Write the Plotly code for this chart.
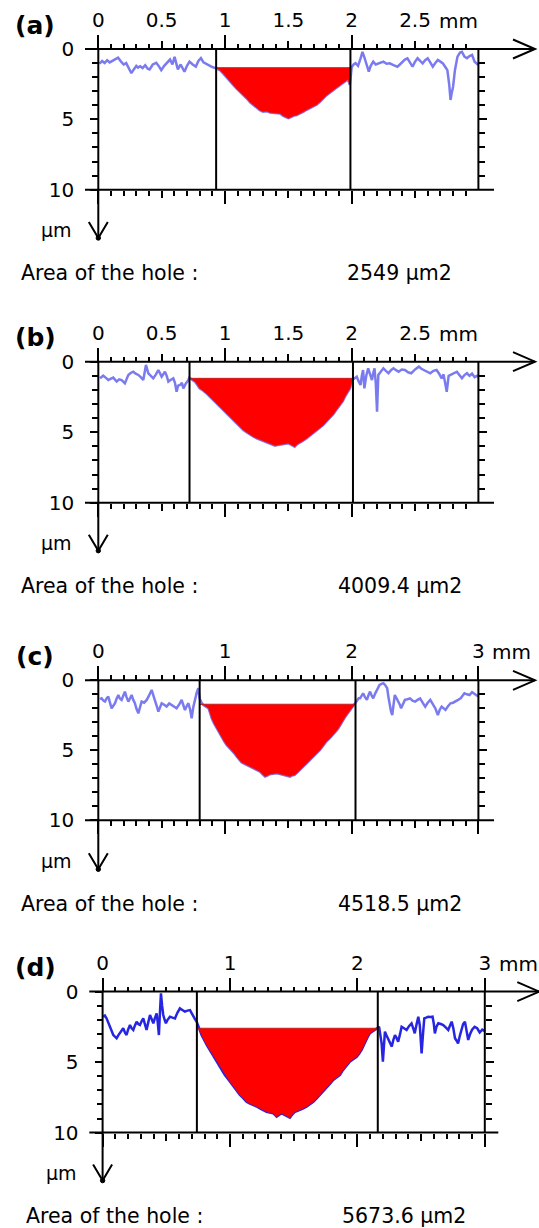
import plotly.graph_objects as go

W, H = 539, 1228
FONT = "DejaVu Sans"

# ---------------- data ----------------
panel_labels = ["(a)", "(b)", "(c)", "(d)"]
area_values = ["2549 µm2", "4009.4 µm2", "4518.5 µm2", "5673.6 µm2"]
area_caption = "Area of the hole :"
x_unit = "mm"
y_unit = "µm"

top_vals_ab = [0, 0.5, 1, 1.5, 2, 2.5]
top_text_ab = ["0", "0.5", "1", "1.5", "2", "2.5"]
top_vals_cd = [0, 0.5, 1, 1.5, 2, 2.5, 3]
top_text_cd = ["0", "", "1", "", "2", "", "3"]
major_vals_ab = [0, 1, 2]
major_vals_cd = [0, 1, 2, 3]
depth_vals = [0, 5, 10]
depth_text = ["0", "5", "10"]
depth_minor = [1, 2, 3, 4, 6, 7, 8, 9]

hole_bounds = [(0.93, 1.99), (0.72, 2.01), (0.80, 2.03), (0.74, 2.16)]
hole_levels = [1.33, 1.18, 1.71, 2.60]
x_frame_end = 3.0
depth_max = 10

profile_a = [
    (0.01, 1.05), (0.03, 0.85), (0.05, 1.00), (0.07, 0.80), (0.09, 0.95), (0.11, 0.85), (0.13, 0.75),
    (0.156, 0.62), (0.18, 0.90), (0.20, 1.10), (0.22, 1.00), (0.24, 1.35), (0.261, 1.72), (0.28, 1.45),
    (0.30, 1.20), (0.313, 1.32), (0.33, 1.22), (0.35, 1.35), (0.37, 1.15), (0.39, 1.40), (0.405, 1.45),
    (0.43, 1.10), (0.458, 0.98), (0.48, 1.25), (0.497, 1.50), (0.52, 1.20), (0.54, 1.00), (0.566, 0.75),
    (0.585, 1.10), (0.602, 0.55), (0.615, 1.00), (0.628, 1.45), (0.65, 1.10), (0.68, 1.62), (0.70, 1.20),
    (0.72, 0.90), (0.745, 1.10), (0.77, 1.25), (0.79, 0.85), (0.81, 0.65), (0.83, 0.95), (0.85, 1.05),
    (0.875, 1.15), (0.90, 1.28), (0.93, 1.38),
    (0.96, 1.50), (0.987, 1.75), (1.015, 2.05), (1.04, 2.35), (1.065, 2.55), (1.09, 2.80), (1.12, 3.05),
    (1.145, 3.30), (1.17, 3.50), (1.20, 3.80), (1.225, 4.00), (1.25, 4.20), (1.275, 4.35), (1.30, 4.45),
    (1.33, 4.42), (1.355, 4.52), (1.38, 4.55), (1.41, 4.60), (1.435, 4.58), (1.46, 4.75), (1.48, 4.82),
    (1.50, 4.92), (1.52, 4.85), (1.54, 4.75), (1.565, 4.70), (1.59, 4.60), (1.62, 4.45), (1.645, 4.32),
    (1.67, 4.22), (1.70, 4.10), (1.725, 3.95), (1.75, 3.75), (1.775, 3.50), (1.80, 3.30), (1.83, 3.10),
    (1.855, 2.90), (1.88, 2.75), (1.91, 2.55), (1.93, 2.45), (1.95, 2.30), (1.97, 2.15), (1.985, 2.55),
    (2.00, 1.30), (2.015, 1.10), (2.03, 1.00), (2.05, 1.20), (2.07, 0.66), (2.085, 0.20), (2.10, 0.60),
    (2.12, 1.26), (2.135, 1.60), (2.15, 1.20), (2.17, 0.90), (2.19, 1.10), (2.21, 1.02), (2.23, 0.95),
    (2.25, 0.90), (2.275, 1.05), (2.30, 1.02), (2.33, 1.15), (2.36, 1.26), (2.38, 1.10), (2.40, 0.90),
    (2.42, 0.75), (2.44, 0.66), (2.46, 1.00), (2.48, 1.26), (2.50, 0.90), (2.52, 0.66), (2.54, 0.85),
    (2.56, 1.02), (2.58, 0.80), (2.60, 0.66), (2.62, 0.95), (2.64, 1.26), (2.66, 1.00), (2.68, 0.78),
    (2.70, 0.90), (2.72, 1.02), (2.74, 1.30), (2.755, 1.50), (2.77, 2.55), (2.78, 3.62), (2.79, 3.10),
    (2.80, 2.68), (2.815, 1.49), (2.835, 0.54), (2.855, 0.25), (2.87, 0.20), (2.89, 0.54), (2.91, 0.66),
    (2.93, 0.50), (2.95, 0.42), (2.97, 0.90), (2.99, 1.10), (3.00, 1.15),
]

profile_b = [
    (0.013, 1.18), (0.026, 1.05), (0.039, 0.99), (0.06, 1.15), (0.079, 1.30), (0.10, 1.20), (0.118, 1.13),
    (0.145, 1.41), (0.165, 1.25), (0.184, 1.30), (0.21, 1.53), (0.225, 1.20), (0.237, 0.94), (0.255, 0.80),
    (0.276, 0.71), (0.295, 0.85), (0.316, 0.94), (0.335, 1.10), (0.355, 1.30), (0.365, 0.80), (0.376, 0.23),
    (0.395, 0.82), (0.415, 1.00), (0.434, 1.18), (0.455, 0.90), (0.474, 0.59), (0.50, 1.06), (0.526, 0.71),
    (0.54, 1.00), (0.553, 1.41), (0.57, 1.30), (0.592, 1.18), (0.605, 1.50), (0.618, 2.13), (0.63, 1.70),
    (0.645, 1.65), (0.66, 1.50), (0.671, 1.89), (0.692, 1.53), (0.705, 1.40), (0.718, 1.13),
    (0.724, 1.18), (0.743, 1.30), (0.763, 1.41), (0.78, 1.60), (0.80, 1.89), (0.82, 2.00), (0.84, 2.13),
    (0.86, 2.30), (0.88, 2.48), (0.905, 2.70), (0.934, 2.95), (0.96, 3.20), (0.987, 3.43), (1.015, 3.65),
    (1.04, 3.90), (1.065, 4.15), (1.09, 4.37), (1.12, 4.60), (1.145, 4.84), (1.17, 5.00), (1.20, 5.20),
    (1.225, 5.32), (1.25, 5.43), (1.275, 5.52), (1.30, 5.62), (1.33, 5.70), (1.355, 5.79), (1.375, 5.88),
    (1.395, 5.95), (1.42, 5.90), (1.447, 5.86), (1.475, 5.82), (1.50, 5.79), (1.525, 5.90), (1.55, 6.03),
    (1.57, 5.85), (1.59, 5.72), (1.62, 5.58), (1.645, 5.43), (1.67, 5.25), (1.70, 5.08), (1.725, 4.90),
    (1.75, 4.73), (1.775, 4.50), (1.80, 4.25), (1.83, 4.00), (1.855, 3.73), (1.88, 3.40), (1.91, 3.07),
    (1.93, 2.80), (1.947, 2.48), (1.965, 2.20), (1.987, 1.89), (2.005, 1.30),
    (2.02, 1.20), (2.04, 1.06), (2.055, 1.40), (2.07, 1.65), (2.08, 1.00), (2.09, 0.59), (2.10, 1.89),
    (2.115, 1.00), (2.13, 0.47), (2.145, 0.90), (2.16, 1.30), (2.17, 0.80), (2.18, 0.47), (2.19, 1.50),
    (2.20, 3.54), (2.21, 0.94), (2.23, 0.70), (2.25, 0.47), (2.27, 0.65), (2.29, 0.82), (2.31, 0.60),
    (2.33, 0.47), (2.35, 0.60), (2.37, 0.71), (2.395, 0.55), (2.42, 0.59), (2.445, 0.75), (2.47, 0.82),
    (2.50, 0.55), (2.53, 0.35), (2.55, 0.50), (2.57, 0.59), (2.595, 0.70), (2.62, 0.82), (2.645, 0.65),
    (2.67, 0.59), (2.69, 0.85), (2.71, 1.18), (2.725, 0.90), (2.75, 2.13), (2.765, 1.00), (2.78, 0.94),
    (2.805, 0.80), (2.83, 0.71), (2.85, 0.95), (2.87, 1.18), (2.89, 0.95), (2.91, 0.82), (2.93, 1.00),
    (2.95, 0.85), (2.97, 1.10), (2.99, 1.00), (3.00, 1.05),
]

profile_c = [
    (0.013, 1.35), (0.026, 1.29), (0.04, 1.45), (0.053, 1.52), (0.065, 1.30), (0.079, 1.17), (0.092, 1.60),
    (0.105, 2.00), (0.12, 1.80), (0.132, 1.64), (0.145, 1.30), (0.158, 1.05), (0.17, 1.30), (0.184, 1.40),
    (0.197, 1.10), (0.21, 0.81), (0.223, 1.20), (0.237, 1.52), (0.25, 1.30), (0.263, 1.05), (0.276, 1.40),
    (0.289, 1.64), (0.30, 2.00), (0.316, 2.36), (0.33, 1.90), (0.342, 1.52), (0.362, 1.60), (0.382, 1.40),
    (0.40, 1.10), (0.421, 0.69), (0.435, 1.10), (0.447, 1.52), (0.46, 1.80), (0.474, 2.24), (0.487, 1.90),
    (0.50, 1.64), (0.52, 1.75), (0.539, 1.88), (0.56, 1.65), (0.579, 1.76), (0.60, 1.90), (0.618, 2.00),
    (0.64, 1.70), (0.658, 1.40), (0.672, 1.80), (0.684, 2.12), (0.70, 1.80), (0.711, 1.64), (0.725, 2.10),
    (0.737, 2.71), (0.75, 1.90), (0.763, 1.29), (0.776, 0.90), (0.789, 0.57), (0.80, 1.30),
    (0.815, 1.60), (0.83, 1.76), (0.85, 1.88), (0.87, 2.00), (0.883, 2.35), (0.895, 2.71), (0.915, 3.10),
    (0.934, 3.43), (0.955, 3.75), (0.974, 4.02), (0.993, 4.35), (1.013, 4.62), (1.033, 4.80), (1.053, 4.98),
    (1.072, 5.20), (1.092, 5.45), (1.11, 5.65), (1.13, 5.86), (1.15, 5.95), (1.17, 6.05), (1.195, 6.15),
    (1.22, 6.29), (1.25, 6.40), (1.276, 6.52), (1.295, 6.70), (1.316, 6.88), (1.335, 6.80), (1.355, 6.71),
    (1.38, 6.68), (1.41, 6.64), (1.435, 6.70), (1.46, 6.76), (1.485, 6.82), (1.513, 6.88), (1.53, 6.80),
    (1.55, 6.76), (1.57, 6.60), (1.59, 6.40), (1.62, 6.15), (1.645, 5.93), (1.67, 5.70), (1.70, 5.45),
    (1.725, 5.20), (1.75, 4.98), (1.775, 4.68), (1.80, 4.38), (1.83, 4.12), (1.855, 3.90), (1.875, 3.65),
    (1.895, 3.43), (1.915, 3.10), (1.934, 2.83), (1.95, 2.60), (1.97, 2.36), (1.99, 2.10), (2.01, 1.88),
    (2.025, 1.71),
    (2.04, 1.50), (2.055, 1.29), (2.066, 1.29), (2.078, 1.10), (2.09, 0.93), (2.105, 1.20), (2.12, 1.40),
    (2.133, 1.05), (2.145, 0.81), (2.158, 1.10), (2.17, 1.29), (2.185, 0.95), (2.20, 0.69), (2.21, 0.45),
    (2.22, 0.33), (2.235, 0.25), (2.25, 0.21), (2.265, 0.35), (2.28, 0.57), (2.29, 1.20), (2.30, 1.76),
    (2.31, 2.20), (2.32, 2.48), (2.33, 1.60), (2.34, 1.05), (2.355, 1.30), (2.37, 1.52), (2.38, 1.75),
    (2.39, 2.00), (2.405, 1.65), (2.42, 1.40), (2.44, 1.35), (2.46, 1.29), (2.48, 1.45), (2.50, 1.52),
    (2.52, 1.40), (2.54, 1.29), (2.56, 1.60), (2.58, 1.88), (2.60, 1.60), (2.62, 1.40), (2.64, 1.70),
    (2.66, 2.00), (2.68, 2.48), (2.695, 2.10), (2.71, 1.88), (2.725, 2.00), (2.74, 2.12), (2.76, 1.85),
    (2.78, 1.64), (2.80, 1.60), (2.82, 1.52), (2.84, 1.40), (2.86, 1.29), (2.875, 1.10), (2.89, 0.93),
    (2.91, 1.00), (2.93, 1.05), (2.95, 0.85), (2.97, 1.00), (2.99, 1.10), (3.00, 1.15),
]

profile_d = [
    (0.005, 1.78), (0.018, 1.70), (0.031, 1.90), (0.045, 2.20), (0.058, 2.49), (0.07, 2.70), (0.084, 3.08),
    (0.097, 3.20), (0.11, 3.31), (0.123, 3.10), (0.136, 2.96), (0.15, 2.75), (0.162, 2.60), (0.175, 2.90),
    (0.188, 3.08), (0.20, 2.70), (0.215, 2.37), (0.228, 2.60), (0.241, 2.72), (0.254, 2.40), (0.267, 2.13),
    (0.28, 2.30), (0.293, 2.37), (0.306, 2.10), (0.319, 1.90), (0.332, 2.30), (0.345, 2.72), (0.358, 2.20),
    (0.372, 1.66), (0.385, 1.95), (0.398, 2.25), (0.41, 1.90), (0.424, 1.54), (0.433, 2.20), (0.442, 3.08),
    (0.45, 1.50), (0.458, 0.12), (0.467, 1.00), (0.476, 1.66), (0.487, 2.00), (0.497, 2.25), (0.51, 2.00),
    (0.529, 1.78), (0.548, 1.85), (0.568, 1.90), (0.587, 1.50), (0.607, 1.19), (0.626, 1.30), (0.646, 1.42),
    (0.666, 1.35), (0.686, 1.31), (0.70, 1.55), (0.712, 1.78), (0.725, 1.95), (0.738, 2.13),
    (0.751, 2.49), (0.764, 2.80), (0.777, 3.08), (0.79, 3.30), (0.803, 3.55), (0.822, 3.85), (0.842, 4.14),
    (0.862, 4.45), (0.882, 4.73), (0.90, 5.00), (0.921, 5.32), (0.94, 5.60), (0.96, 5.91), (0.98, 6.15),
    (1.00, 6.39), (1.02, 6.62), (1.039, 6.86), (1.058, 7.10), (1.078, 7.33), (1.104, 7.55), (1.13, 7.81),
    (1.157, 7.95), (1.183, 8.04), (1.21, 8.15), (1.235, 8.28), (1.26, 8.40), (1.287, 8.52), (1.313, 8.58),
    (1.34, 8.63), (1.353, 8.75), (1.366, 8.87), (1.385, 8.75), (1.405, 8.63), (1.425, 8.72), (1.444, 8.80),
    (1.457, 8.88), (1.47, 8.94), (1.49, 8.70), (1.51, 8.52), (1.53, 8.45), (1.549, 8.40), (1.575, 8.28),
    (1.60, 8.16), (1.627, 8.00), (1.654, 7.81), (1.68, 7.58), (1.706, 7.33), (1.732, 7.10), (1.758, 6.86),
    (1.784, 6.55), (1.81, 6.27), (1.836, 6.10), (1.863, 5.91), (1.88, 5.65), (1.90, 5.44), (1.92, 5.20),
    (1.94, 4.97), (1.967, 4.80), (1.994, 4.62), (2.013, 4.40), (2.033, 4.14), (2.05, 3.80), (2.067, 3.43),
    (2.082, 3.20), (2.098, 2.96), (2.118, 2.85), (2.138, 2.72), (2.155, 2.60),
    (2.17, 2.49), (2.18, 3.00), (2.19, 3.67), (2.20, 4.97), (2.208, 3.60), (2.216, 2.84), (2.228, 3.10),
    (2.24, 3.31), (2.255, 3.60), (2.27, 3.90), (2.283, 3.40), (2.295, 3.08), (2.308, 3.30), (2.32, 3.55),
    (2.335, 3.00), (2.347, 2.49), (2.366, 2.60), (2.386, 2.72), (2.405, 2.45), (2.425, 2.25), (2.438, 2.60),
    (2.45, 2.96), (2.465, 2.30), (2.478, 1.78), (2.49, 2.40), (2.504, 4.38), (2.515, 3.00), (2.525, 1.90),
    (2.54, 1.85), (2.556, 1.78), (2.573, 1.80), (2.59, 1.78), (2.60, 2.30), (2.608, 2.96), (2.62, 2.50),
    (2.635, 2.25), (2.655, 2.30), (2.674, 2.37), (2.695, 2.55), (2.713, 2.72), (2.727, 2.40), (2.74, 2.13),
    (2.753, 2.60), (2.766, 3.31), (2.78, 3.50), (2.79, 3.67), (2.805, 3.10), (2.818, 2.60), (2.83, 2.30),
    (2.844, 2.13), (2.857, 2.80), (2.87, 3.43), (2.885, 3.00), (2.90, 2.70), (2.92, 2.50), (2.94, 2.60),
    (2.96, 2.90), (2.98, 2.70), (3.00, 2.80),
]

profiles = [profile_a, profile_b, profile_c, profile_d]
line_colors = ["#7b7bf0", "#7b7bf0", "#7b7bf0", "#2626e2"]

# ---------------- layout geometry (pixels) ----------------
geom = [
    dict(x0=98.3, y0=49.0, sx=126.7, sy=14.07),
    dict(x0=98.3, y0=361.7, sx=126.7, sy=14.10),
    dict(x0=98.3, y0=680.3, sx=126.7, sy=14.00),
    dict(x0=102.6, y0=991.6, sx=127.4, sy=14.10),
]
PX_LEFT, PX_RIGHT = 60, 539
REL_TOP, REL_BOT = -22, 200
LINE_START = -13.3      # px left of the 0 position
TOP_LINE_END = 436.7    # px right of the 0 position (arrow tip)
BOT_LINE_END = 395.7
YAX_END = 189.0         # px below depth 0 (arrow tip)
ARW_LEN, ARW_HALF = 22.0, 9.5
LABEL_X = 35.0

BLACK = "#000000"
tick_font = dict(family=FONT, size=20, color=BLACK)


def xid(n):
    return "x" if n == 1 else f"x{n}"


def yid(n):
    return "y" if n == 1 else f"y{n}"


def xkey(n):
    return "xaxis" if n == 1 else f"xaxis{n}"


def ykey(n):
    return "yaxis" if n == 1 else f"yaxis{n}"


fig = go.Figure()
shapes, annotations, axes = [], [], {}

for k in range(4):
    g = geom[k]
    x0, y0, sx, sy = g["x0"], g["y0"], g["sx"], g["sy"]
    bx, by = 5 * k + 1, 3 * k + 1
    xr = [(PX_LEFT - x0) / sx, (PX_RIGHT - x0) / sx]
    yr = [REL_BOT / sy, REL_TOP / sy]
    xdom = [PX_LEFT / W, PX_RIGHT / W]
    ydom = [1 - (y0 + REL_BOT) / H, 1 - (y0 + REL_TOP) / H]
    axes[xkey(bx)] = dict(domain=xdom, range=xr, visible=False, anchor=yid(by), fixedrange=True)
    axes[ykey(by)] = dict(domain=ydom, range=yr, visible=False, anchor=xid(bx), fixedrange=True)

    ab = k < 2
    halves = top_vals_ab if ab else top_vals_cd
    htext = top_text_ab if ab else top_text_cd
    majors = major_vals_ab if ab else major_vals_cd
    n_tenth = 30 if ab else 31
    tenths = [round(i * 0.1, 1) for i in range(n_tenth)]

    p_top = 1 - y0 / H
    p_bot = 1 - (y0 + depth_max * sy) / H

    def xtick(side, pos, vals, text, ln, minor_len, labels):
        d = dict(range=xr, domain=xdom, overlaying=xid(bx), anchor="free", position=pos, side=side,
                 showline=False, showgrid=False, zeroline=False, ticks="outside", tickcolor=BLACK,
                 tickwidth=2, ticklen=ln, tickmode="array", tickvals=vals, fixedrange=True,
                 showticklabels=labels)
        if labels:
            d.update(ticktext=text, tickfont=tick_font, ticklabelstandoff=6)
        if minor_len:
            d["minor"] = dict(tickmode="array", tickvals=tenths, ticklen=minor_len, tickwidth=2,
                              tickcolor=BLACK, ticks="outside", showgrid=False)
        return d

    axes[xkey(bx + 1)] = xtick("top", p_top, halves, htext, 8, 5, True)
    axes[xkey(bx + 2)] = xtick("top", p_top, majors, None, 14, 0, False)
    axes[xkey(bx + 3)] = xtick("bottom", p_bot, halves, None, 7, 5, False)
    axes[xkey(bx + 4)] = xtick("bottom", p_bot, majors, None, 13, 0, False)

    def ytick(side, pos, vals, text, labels):
        d = dict(range=yr, domain=ydom, overlaying=yid(by), anchor="free", position=pos, side=side,
                 showline=False, showgrid=False, zeroline=False, ticks="outside", tickcolor=BLACK,
                 tickwidth=2, ticklen=8, tickmode="array", tickvals=vals, fixedrange=True,
                 showticklabels=labels,
                 minor=dict(tickmode="array", tickvals=depth_minor, ticklen=6, tickwidth=2,
                            tickcolor=BLACK, ticks="outside", showgrid=False))
        if labels:
            d.update(ticktext=text, tickfont=tick_font, ticklabelstandoff=12)
        return d

    axes[ykey(by + 1)] = ytick("left", x0 / W, depth_vals, depth_text, True)
    axes[ykey(by + 2)] = ytick("right", (x0 + x_frame_end * sx) / W, [5], None, False)

    # empty traces so every tick axis gets its subplot
    for n in range(bx + 1, bx + 5):
        fig.add_trace(go.Scatter(x=[None], y=[None], xaxis=xid(n), yaxis=yid(by), hoverinfo="skip"))
    for n in (by + 1, by + 2):
        fig.add_trace(go.Scatter(x=[None], y=[None], xaxis=xid(bx), yaxis=yid(n), hoverinfo="skip"))

    prof = profiles[k]
    px_ = [p[0] for p in prof]
    pd_ = [p[1] for p in prof]
    xl, xrr = hole_bounds[k]
    lvl = hole_levels[k]

    fig.add_trace(go.Scatter(x=px_, y=pd_, mode="lines", xaxis=xid(bx), yaxis=yid(by),
                             line=dict(color=line_colors[k], width=2.5), hoverinfo="skip"))
    inside = [p for p in prof if xl < p[0] < xrr]
    fx = [xl] + [p[0] for p in inside] + [xrr]
    fy = [lvl] + [max(p[1], lvl) for p in inside] + [lvl]
    fig.add_trace(go.Scatter(x=fx, y=fy, mode="lines", fill="toself", fillcolor="#ff0000",
                             line=dict(color="#ff0000", width=0.5), xaxis=xid(bx), yaxis=yid(by),
                             hoverinfo="skip"))
    fig.add_trace(go.Scatter(x=[xl, xrr], y=[lvl, lvl], mode="lines", xaxis=xid(bx), yaxis=yid(by),
                             line=dict(color="#c81e1e", width=1), hoverinfo="skip"))

    xref, yref = xid(bx), yid(by)
    ln = dict(color=BLACK, width=2)

    def seg(xa, ya, xb, yb):
        shapes.append(dict(type="line", xref=xref, yref=yref, x0=xa, y0=ya, x1=xb, y1=yb, line=ln))

    seg(LINE_START / sx, 0, TOP_LINE_END / sx, 0)
    seg(LINE_START / sx, depth_max, BOT_LINE_END / sx, depth_max)
    seg(0, 0, 0, YAX_END / sy)
    seg(x_frame_end, 0, x_frame_end, depth_max)
    seg(xl, 0, xl, depth_max)
    seg(xrr, 0, xrr, depth_max)
    tipx = TOP_LINE_END / sx
    shapes.append(dict(type="path", xref=xref, yref=yref, line=ln,
                       path=f"M {tipx - ARW_LEN / sx},{-ARW_HALF / sy} L {tipx},0 L {tipx - ARW_LEN / sx},{ARW_HALF / sy}"))
    tipy = YAX_END / sy
    shapes.append(dict(type="path", xref=xref, yref=yref, line=ln,
                       path=f"M {-ARW_HALF / sx},{tipy - 16 / sy} L 0,{tipy} L {ARW_HALF / sx},{tipy - 16 / sy}"))
    shapes.append(dict(type="circle", xref=xref, yref=yref, line=dict(color=BLACK, width=1),
                       fillcolor=BLACK, x0=-2.2 / sx, x1=2.2 / sx, y0=tipy - 2.2 / sy, y1=tipy + 2.2 / sy))

    def ann(text, xp, yp, xanchor, size, bold=False):
        annotations.append(dict(text=f"<b>{text}</b>" if bold else text, x=xp / W, y=1 - yp / H,
                                xref="paper", yref="paper", xanchor=xanchor, yanchor="middle",
                                showarrow=False, font=dict(family=FONT, size=size, color=BLACK)))

    ann(panel_labels[k], LABEL_X, y0 - 24, "center", 25, bold=True)
    last = halves[-1] if ab else majors[-1]
    ann(x_unit, x0 + last * sx + (22 if ab else 12), y0 - 28, "left", 20)
    ann(y_unit, x0 - 24, y0 + 181, "right", 19)
    ann(area_caption, x0 - 79, y0 + 224, "left", 20.5)
    ann(area_values[k], x0 + 301.6, y0 + 224, "center", 20.5)

fig.update_layout(width=W, height=H, margin=dict(l=0, r=0, t=0, b=0), showlegend=False,
                  paper_bgcolor="white", plot_bgcolor="white", shapes=shapes, annotations=annotations,
                  font=dict(family=FONT, color=BLACK), **axes)
fig.write_html("out.html")
